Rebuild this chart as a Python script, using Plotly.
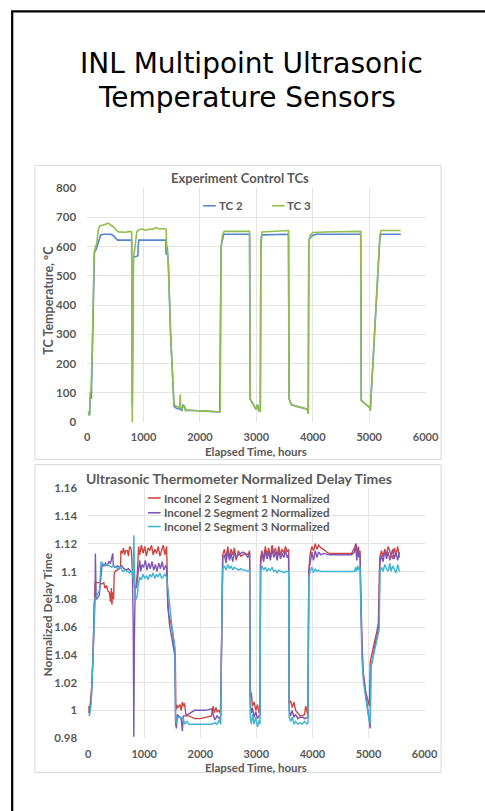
import plotly.graph_objects as go

# ---------------- DATA ----------------
# Experiment Control TCs  (hours, deg C)
tc2_points = [(20,30),(45,25),(55,75),(65,105),(75,80),(85,160),(95,200),(105,300),(115,380),(120,480),
              (130,580),(160,590),(200,620),(240,640),(300,642),(360,642),(420,642),(460,638),(500,628),
              (540,622),(600,622),(700,622),(790,622),(800,50),(820,560),(840,565),(900,568),(905,600),
              (915,622),(1000,622),(1200,622),(1395,622),(1400,575),(1410,575),(1420,600),(1440,540),
              (1480,300),(1520,100),(1540,55),(1580,48),(1640,45),(1680,40),(1700,60),(1720,55),(1760,40),
              (1900,40),(2100,38),(2300,36),(2350,35),(2375,600),(2400,630),(2420,642),(2880,642),(2890,80),
              (2920,70),(2960,55),(2990,45),(3020,60),(3040,40),(3070,38),(3080,610),(3100,640),(3570,642),
              (3580,80),(3620,60),(3700,55),(3800,50),(3900,45),(3920,30),(3930,620),(3960,632),(4000,638),
              (4050,642),(4850,642),(4860,75),(4950,60),(5010,50),(5020,40),(5190,630),(5210,642),(5560,642)]

tc3_points = [(20,38),(40,22),(55,100),(70,110),(90,250),(110,480),(125,580),(150,600),(170,610),(200,660),
              (230,672),(270,673),(320,675),(380,680),(430,672),(480,665),(520,655),(560,650),(620,650),
              (680,648),(740,652),(790,650),(800,0),(820,560),(850,600),(880,650),(920,658),(980,660),
              (1040,656),(1100,660),(1160,659),(1220,665),(1260,662),(1300,660),(1360,662),(1400,660),
              (1410,600),(1440,540),(1480,300),(1520,100),(1540,60),(1580,55),(1640,50),(1650,95),(1660,45),
              (1690,50),(1720,58),(1740,40),(1800,42),(1900,40),(2000,40),(2100,38),(2200,37),(2300,36),
              (2350,35),(2360,45),(2375,600),(2400,640),(2430,652),(2600,652),(2880,652),(2890,80),(2920,70),
              (2960,55),(2990,45),(3020,60),(3040,40),(3070,38),(3080,620),(3100,650),(3300,652),(3570,655),
              (3580,80),(3620,60),(3700,55),(3800,50),(3900,45),(3920,30),(3930,620),(3960,640),(4000,648),
              (4200,650),(4500,650),(4850,652),(4860,75),(4950,60),(5010,50),(5020,40),(5190,640),(5210,655),
              (5400,655),(5560,655)]

# Ultrasonic Thermometer Normalized Delay Times (hours, normalized)
seg1_points = [(10,1.003),(25,0.998),(40,1.005),(55,1.012),(70,1.02),(90,1.04),(110,1.075),(125,1.092),
               (160,1.092),(200,1.092),(240,1.091),(280,1.092),(300,1.088),(330,1.09),(350,1.086),(380,1.085),
               (400,1.078),(415,1.088),(425,1.076),(440,1.085),(455,1.08),(465,1.098),(480,1.1),(520,1.101),
               (560,1.102),(580,1.104),(585,1.115),(610,1.113),(630,1.117),(650,1.112),(670,1.115),(700,1.115),
               (720,1.111),(740,1.118),(770,1.116),(790,1.1),(810,1.098),(830,1.087),(860,1.09),(880,1.1),
               (900,1.118),(920,1.112),(950,1.119),(980,1.113),(1010,1.118),(1040,1.111),(1070,1.117),
               (1100,1.115),(1130,1.119),(1160,1.112),(1190,1.116),(1220,1.113),(1250,1.118),(1280,1.111),
               (1310,1.115),(1340,1.119),(1370,1.112),(1400,1.118),(1410,1.1),(1420,1.075),(1440,1.068),
               (1470,1.064),(1500,1.058),(1530,1.05),(1555,1.04),(1565,1.0),(1580,1.004),(1600,1.002),
               (1640,1.004),(1660,1.0),(1680,1.006),(1700,1.003),(1720,1.005),(1740,0.998),(1760,0.996),
               (1800,0.996),(1900,0.994),(2000,0.994),(2100,0.995),(2200,0.996),(2230,1.003),(2250,0.998),
               (2280,1.002),(2300,0.999),(2330,1.0),(2360,0.998),(2380,1.05),(2400,1.112),(2430,1.116),
               (2460,1.109),(2490,1.118),(2520,1.11),(2550,1.116),(2580,1.112),(2610,1.117),(2640,1.108),
               (2680,1.115),(2720,1.111),(2760,1.112),(2800,1.113),(2850,1.112),(2880,1.115),(2890,1.01),
               (2910,1.013),(2930,1.003),(2960,1.006),(2990,1.0),(3020,1.004),(3050,0.998),(3065,1.0),
               (3075,1.11),(3100,1.115),(3130,1.109),(3160,1.118),(3190,1.112),(3220,1.117),(3250,1.11),
               (3280,1.119),(3310,1.113),(3340,1.117),(3370,1.111),(3400,1.118),(3430,1.112),(3460,1.116),
               (3490,1.113),(3520,1.118),(3550,1.114),(3575,1.116),(3585,1.005),(3610,1.007),(3640,1.002),
               (3670,1.006),(3700,1.0),(3740,0.998),(3780,0.996),(3820,0.996),(3860,0.997),(3880,1.003),
               (3900,0.998),(3920,0.996),(3935,1.1),(3960,1.113),(3990,1.118),(4020,1.115),(4050,1.12),
               (4080,1.116),(4110,1.119),(4150,1.117),(4200,1.116),(4250,1.114),(4300,1.113),(4500,1.113),
               (4700,1.113),(4750,1.117),(4780,1.12),(4800,1.112),(4820,1.118),(4840,1.111),(4850,1.115),
               (4860,1.09),(4870,1.07),(4895,1.03),(4950,1.013),(4990,1.007),(5017,1.003),(5030,1.035),
               (5070,1.044),(5110,1.05),(5150,1.057),(5175,1.063),(5190,1.09),(5200,1.11),(5230,1.115),
               (5260,1.111),(5290,1.116),(5320,1.112),(5350,1.118),(5380,1.114),(5400,1.113),(5430,1.109),
               (5460,1.117),(5490,1.112),(5520,1.118),(5550,1.11)]

seg2_points = [(10,0.998),(25,1.0),(40,1.003),(55,1.006),(70,1.02),(90,1.045),(110,1.078),(125,1.08),
               (130,1.113),(135,1.085),(145,1.08),(170,1.081),(200,1.083),(215,1.09),(230,1.1),(250,1.105),
               (280,1.104),(310,1.106),(340,1.104),(370,1.107),(400,1.106),(420,1.109),(440,1.113),(450,1.104),
               (480,1.103),(520,1.104),(560,1.103),(600,1.104),(640,1.102),(680,1.101),(720,1.102),(760,1.1),
               (790,1.1),(805,1.06),(815,0.981),(825,1.05),(840,1.09),(860,1.088),(880,1.095),(900,1.104),
               (920,1.108),(940,1.1),(960,1.105),(990,1.103),(1020,1.108),(1050,1.101),(1080,1.106),
               (1110,1.102),(1140,1.107),(1170,1.101),(1200,1.105),(1230,1.1),(1260,1.106),(1290,1.102),
               (1320,1.107),(1350,1.101),(1380,1.104),(1400,1.103),(1420,1.08),(1450,1.062),(1490,1.052),
               (1520,1.045),(1545,1.04),(1560,0.99),(1575,0.987),(1590,0.997),(1620,0.996),(1660,0.994),
               (1680,0.985),(1700,0.996),(1740,0.996),(1780,0.997),(1820,0.998),(1900,1.0),(2000,1.0),
               (2100,1.0),(2200,1.001),(2260,0.993),(2300,0.996),(2340,0.994),(2365,0.996),(2380,1.05),
               (2400,1.11),(2430,1.112),(2460,1.106),(2490,1.115),(2520,1.108),(2550,1.113),(2580,1.107),
               (2610,1.114),(2640,1.11),(2680,1.112),(2720,1.113),(2760,1.114),(2800,1.113),(2850,1.11),
               (2880,1.113),(2890,1.005),(2910,0.998),(2930,1.002),(2960,0.995),(2990,0.999),(3020,0.994),
               (3050,0.996),(3065,0.997),(3075,1.105),(3100,1.113),(3130,1.107),(3160,1.115),(3190,1.109),
               (3220,1.114),(3250,1.108),(3280,1.116),(3310,1.11),(3340,1.114),(3370,1.108),(3400,1.115),
               (3430,1.109),(3460,1.113),(3490,1.11),(3520,1.115),(3550,1.11),(3575,1.112),(3585,1.0),
               (3610,0.996),(3640,1.0),(3670,0.995),(3700,0.997),(3740,0.994),(3780,0.995),(3820,0.995),
               (3860,0.994),(3900,0.995),(3920,0.995),(3935,1.1),(3960,1.108),(3990,1.114),(4020,1.108),
               (4050,1.115),(4080,1.11),(4110,1.114),(4150,1.112),(4200,1.113),(4300,1.112),(4500,1.112),
               (4700,1.112),(4750,1.114),(4770,1.12),(4790,1.108),(4810,1.116),(4830,1.11),(4850,1.112),
               (4860,1.08),(4880,1.05),(4910,1.025),(4950,1.012),(4990,1.0),(5030,0.987),(5040,1.03),
               (5080,1.04),(5120,1.048),(5160,1.055),(5185,1.062),(5200,1.105),(5230,1.112),(5260,1.107),
               (5290,1.115),(5320,1.109),(5350,1.114),(5380,1.108),(5400,1.112),(5430,1.116),(5460,1.109),
               (5490,1.114),(5520,1.108),(5550,1.114)]

seg3_points = [(10,0.997),(25,0.996),(40,1.0),(55,1.005),(70,1.018),(90,1.04),(110,1.072),(125,1.08),
               (145,1.082),(180,1.085),(200,1.086),(215,1.095),(230,1.107),(260,1.106),(300,1.104),(340,1.105),
               (380,1.104),(420,1.103),(460,1.104),(500,1.103),(540,1.102),(580,1.103),(620,1.1),(660,1.101),
               (700,1.1),(740,1.099),(780,1.1),(800,1.095),(815,1.126),(825,1.09),(840,1.082),(860,1.08),
               (880,1.084),(900,1.092),(920,1.096),(950,1.094),(980,1.098),(1010,1.095),(1040,1.097),
               (1070,1.094),(1100,1.098),(1130,1.096),(1160,1.099),(1190,1.095),(1220,1.098),(1250,1.096),
               (1280,1.099),(1310,1.095),(1340,1.097),(1370,1.098),(1400,1.096),(1420,1.09),(1450,1.078),
               (1490,1.062),(1520,1.052),(1550,1.045),(1560,0.995),(1575,0.99),(1600,0.995),(1650,0.995),
               (1700,0.994),(1720,0.99),(1760,0.992),(1800,0.99),(1900,0.99),(2000,0.99),(2100,0.99),
               (2200,0.99),(2260,0.991),(2300,0.99),(2340,0.993),(2365,0.99),(2380,1.05),(2400,1.102),
               (2430,1.104),(2460,1.101),(2490,1.105),(2520,1.102),(2550,1.104),(2580,1.101),(2610,1.103),
               (2640,1.102),(2680,1.101),(2720,1.102),(2760,1.101),(2800,1.101),(2850,1.1),(2880,1.101),
               (2890,0.995),(2910,0.99),(2930,0.997),(2960,0.99),(2990,0.995),(3020,0.988),(3050,0.993),
               (3065,0.99),(3075,1.1),(3100,1.104),(3130,1.101),(3160,1.103),(3190,1.1),(3220,1.102),
               (3250,1.101),(3280,1.103),(3310,1.1),(3340,1.101),(3370,1.099),(3400,1.101),(3430,1.1),
               (3460,1.1),(3490,1.099),(3520,1.1),(3550,1.1),(3575,1.1),(3585,0.995),(3610,0.992),(3640,0.995),
               (3670,0.99),(3700,0.992),(3740,0.99),(3780,0.991),(3820,0.99),(3860,0.992),(3900,0.99),
               (3920,0.991),(3935,1.095),(3960,1.1),(3990,1.103),(4020,1.099),(4050,1.102),(4080,1.1),
               (4110,1.101),(4150,1.1),(4300,1.1),(4500,1.1),(4750,1.1),(4770,1.103),(4790,1.1),(4810,1.104),
               (4830,1.101),(4850,1.103),(4860,1.07),(4880,1.04),(4910,1.02),(4950,1.008),(4990,0.998),
               (5030,0.99),(5045,1.032),(5080,1.038),(5120,1.045),(5160,1.052),(5190,1.058),(5205,1.1),
               (5230,1.103),(5260,1.1),(5290,1.105),(5320,1.102),(5350,1.1),(5380,1.106),(5400,1.1),
               (5430,1.104),(5460,1.101),(5490,1.099),(5520,1.105),(5550,1.1)]

tc_series = [("TC 2", tc2_points, "#5585D0"), ("TC 3", tc3_points, "#92BF4B")]
ut_series = [("Inconel 2 Segment 1 Normalized", seg1_points, "#D0453F"),
             ("Inconel 2 Segment 2 Normalized", seg2_points, "#7F55B3"),
             ("Inconel 2 Segment 3 Normalized", seg3_points, "#3FB3D1")]

x_ticks = [0, 1000, 2000, 3000, 4000, 5000, 6000]
tc_ticks = [0, 100, 200, 300, 400, 500, 600, 700, 800]
ut_ticks = [0.98, 1.0, 1.02, 1.04, 1.06, 1.08, 1.1, 1.12, 1.14, 1.16]
ut_tick_text = ["0.98", "1", "1.02", "1.04", "1.06", "1.08", "1.1", "1.12", "1.14", "1.16"]

# ---------------- LAYOUT ----------------
W, H = 485, 811
def fx(px): return px / W
def fy(py): return 1 - py / H

GRAY = "#595959"
GRID = "#E4E4E4"
FONT = "Lato"

fig = go.Figure()
for name, pts, col in tc_series:
    fig.add_trace(go.Scatter(x=[p[0] for p in pts], y=[p[1] for p in pts], mode="lines", name=name,
                             line=dict(color=col, width=1.6), xaxis="x", yaxis="y", showlegend=False))
for name, pts, col in ut_series:
    fig.add_trace(go.Scatter(x=[p[0] for p in pts], y=[p[1] for p in pts], mode="lines", name=name,
                             line=dict(color=col, width=1.4), xaxis="x2", yaxis="y2", showlegend=False))

ytickfont = dict(family=FONT, size=11.5, color=GRAY, weight="bold")
xtickfont = dict(family=FONT, size=11, color=GRAY, weight="bold")
axis_common = dict(showgrid=True, gridcolor=GRID, gridwidth=1, zeroline=False, showline=False,
                   ticks="", fixedrange=True)

fig.update_layout(
    width=W, height=H, margin=dict(l=0, r=0, t=0, b=0),
    paper_bgcolor="white", plot_bgcolor="white", showlegend=False,
    xaxis=dict(domain=[fx(87), fx(437)], range=[0, 6000], tickvals=x_ticks, anchor="y",
               ticklabelstandoff=7, tickfont=xtickfont, **axis_common),
    yaxis=dict(domain=[fy(422), fy(184)], range=[0, 800], tickvals=tc_ticks, anchor="x",
               ticklabelstandoff=10, tickfont=ytickfont, **axis_common),
    xaxis2=dict(domain=[fx(88), fx(436)], range=[0, 6000], tickvals=x_ticks, anchor="y2",
                ticklabelstandoff=8, tickfont=xtickfont, **axis_common),
    yaxis2=dict(domain=[fy(743), fy(489)], range=[0.98, 1.16], tickvals=ut_ticks, ticktext=ut_tick_text,
                anchor="x2", ticklabelstandoff=10, tickfont=ytickfont, **axis_common),
)

shapes = [
    # outer slide border
    dict(type="rect", xref="paper", yref="paper", x0=fx(9.5), x1=fx(500), y0=fy(830), y1=fy(4.5),
         line=dict(color="black", width=2.2), fillcolor="rgba(0,0,0,0)", layer="above"),
    # chart boxes
    dict(type="rect", xref="paper", yref="paper", x0=fx(33), x1=fx(453), y0=fy(460), y1=fy(161),
         line=dict(color="#D9D9D9", width=1), layer="below"),
    dict(type="rect", xref="paper", yref="paper", x0=fx(33), x1=fx(453), y0=fy(778), y1=fy(465),
         line=dict(color="#D9D9D9", width=1), layer="below"),
    # legend backgrounds
    dict(type="rect", xref="paper", yref="paper", x0=fx(178), x1=fx(330), y0=fy(214), y1=fy(192),
         line=dict(width=0), fillcolor="white", layer="between"),
    dict(type="rect", xref="paper", yref="paper", x0=fx(145), x1=fx(340), y0=fy(536), y1=fy(491),
         line=dict(width=0), fillcolor="white", layer="between"),
]
annotations = []

# main title
annotations.append(dict(text="INL Multipoint Ultrasonic", x=fx(257), y=fy(57), xref="paper", yref="paper",
                        showarrow=False, xanchor="center", yanchor="middle",
                        font=dict(family="DejaVu Sans", size=28, color="black")))
annotations.append(dict(text="Temperature Sensors", x=fx(252), y=fy(92), xref="paper", yref="paper",
                        showarrow=False, xanchor="center", yanchor="middle",
                        font=dict(family="DejaVu Sans", size=28, color="black")))

def txt(t, x, y, size=12.5, angle=0, xanchor="center"):
    annotations.append(dict(text=t, x=fx(x), y=fy(y), xref="paper", yref="paper", showarrow=False,
                            textangle=angle, xanchor=xanchor, yanchor="middle",
                            font=dict(family=FONT, size=size, color=GRAY, weight="bold")))

# chart titles
txt("Experiment Control TCs", 245, 174, 13)
txt("Ultrasonic Thermometer Normalized Delay Times", 244, 479, 14)
# axis titles
txt("TC Temperature, °C", 47, 298, 12.5, angle=-90)
txt("Elapsed Time, hours", 262, 452, 11.5)
txt("Normalized Delay Time", 46, 617, 12, angle=-90)
txt("Elapsed Time, hours", 262, 773, 11.5)

# legends (drawn keys)
leg1 = [(207, 202), (278, 202)]
for (name, pts, col), (lx, ly) in zip(tc_series, leg1):
    shapes.append(dict(type="line", xref="paper", yref="paper", x0=fx(lx), x1=fx(lx + 13), y0=fy(ly), y1=fy(ly),
                       line=dict(color=col, width=1.6)))
    txt(name, lx + 14, ly, 11.5, xanchor="left")
leg2_y = [499, 514, 528]
for (name, pts, col), ly in zip(ut_series, leg2_y):
    shapes.append(dict(type="line", xref="paper", yref="paper", x0=fx(150), x1=fx(163), y0=fy(ly), y1=fy(ly),
                       line=dict(color=col, width=1.6)))
    txt(name, 164, ly, 11.5, xanchor="left")

fig.update_layout(shapes=shapes, annotations=annotations)
fig.write_html("out.html")
